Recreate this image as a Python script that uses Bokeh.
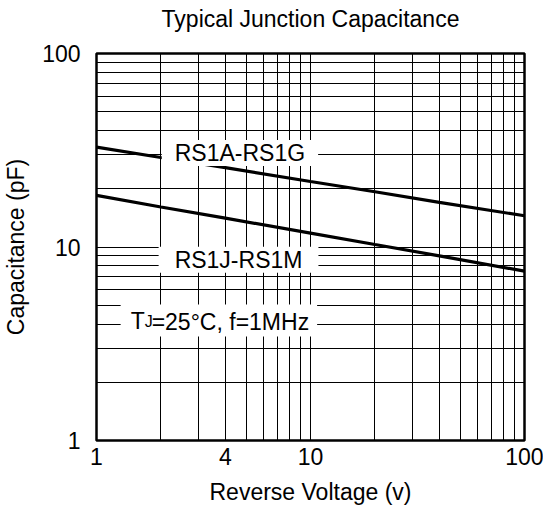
from bokeh.plotting import figure
from bokeh.models import FixedTicker, NumeralTickFormatter, Label
from bokeh.embed import file_html
from bokeh.resources import INLINE

# ---- data ----
voltage = [1, 2, 4, 10, 20, 40, 100]
cap_rs1a_rs1g = [32.8, 29.0, 25.7, 21.8, 19.3, 17.0, 14.5]
cap_rs1j_rs1m = [18.5, 16.1, 14.1, 11.8, 10.3, 9.0, 7.5]

x_tick_values = [1, 4, 10, 100]
y_tick_values = [1, 10, 100]
grid_values = list(range(1, 10)) + list(range(10, 101, 10))

FONT = "Liberation Sans"
FS = "23px"

p = figure(frame_width=428, frame_height=387, x_axis_type="log", y_axis_type="log",
           x_range=(1, 100), y_range=(1, 100),
           output_backend="svg", toolbar_location=None,
           min_border_left=89, min_border_right=19,
           min_border_top=45, min_border_bottom=74)

p.title.text = "Typical Junction Capacitance"
p.title.align = "center"
p.title.text_font = FONT
p.title.text_font_size = FS
p.title.text_font_style = "normal"
p.title.text_color = "black"
p.title.standoff = 0
p.title.padding = dict(left=0, right=0, top=3, bottom=22)

p.background_fill_color = "white"
p.border_fill_color = "white"
p.outline_line_color = "black"
p.outline_line_width = 2.5

for ax in (p.xaxis[0], p.yaxis[0]):
    ax.axis_line_color = None
    ax.major_tick_line_color = None
    ax.minor_tick_line_color = None
    ax.major_label_text_font = FONT
    ax.major_label_text_font_size = FS
    ax.major_label_text_color = "black"
    ax.axis_label_text_font = FONT
    ax.axis_label_text_font_size = FS
    ax.axis_label_text_font_style = "normal"
    ax.axis_label_text_color = "black"
    ax.formatter = NumeralTickFormatter(format="0")

p.xaxis.ticker = FixedTicker(ticks=x_tick_values)
p.yaxis.ticker = FixedTicker(ticks=y_tick_values)
p.xaxis.axis_label = "Reverse Voltage (v)"
p.yaxis.axis_label = "Capacitance (pF)"
p.xaxis.major_label_standoff = 1
p.xaxis.axis_label_standoff = 11
p.yaxis.major_label_standoff = 10
p.yaxis.axis_label_standoff = 10

for g in (p.xgrid[0], p.ygrid[0]):
    g.ticker = FixedTicker(ticks=grid_values)
    g.grid_line_color = "black"
    g.grid_line_alpha = 1.0
    g.grid_line_width = 1
    g.minor_grid_line_color = None

p.line(voltage, cap_rs1a_rs1g, line_color="black", line_width=3.2)
p.line(voltage, cap_rs1j_rs1m, line_color="black", line_width=3.2)

def lab(text, x, y, align="center", size=FS, pad=None, bg=True, x_offset=0, y_offset=0):
    kw = dict(x=x, y=y, text=text, text_font=FONT, text_font_size=size,
              text_color="black", text_align=align, text_baseline="alphabetic",
              x_offset=x_offset, y_offset=y_offset)
    if bg:
        kw["background_fill_color"] = "white"
        kw["padding"] = pad
    return Label(**kw)

p.add_layout(lab("RS1A-RS1G", 4.68, 30.6,
                 pad=dict(left=13, right=13, top=0, bottom=0)))
p.add_layout(lab("RS1J-RS1M", 4.61, 8.6,
                 pad=dict(left=16, right=16, top=0, bottom=0)))
# T_J label: background text first, then T and subscript J on top
p.add_layout(lab("=25°C, f=1MHz", 1.81, 4.17, align="left", x_offset=-31,
                 pad=dict(left=31, right=8, top=4, bottom=2)))
p.add_layout(lab("T", 1.81, 4.17, align="left", bg=False, x_offset=-21))
p.add_layout(lab("J", 1.81, 4.17, align="left", size="16px", bg=False,
                 x_offset=-7, y_offset=-1))

open("out.html", "w").write(file_html(p, INLINE))
